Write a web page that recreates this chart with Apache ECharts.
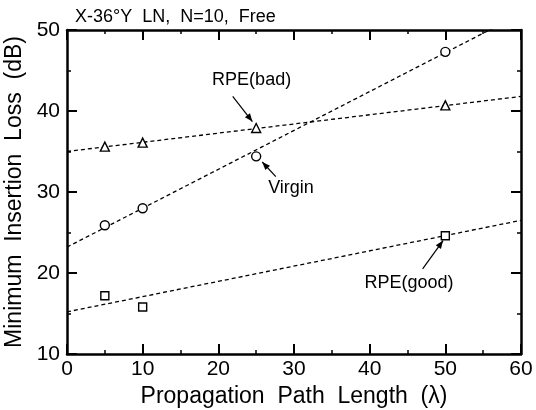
<!DOCTYPE html>
<html>
<head>
<meta charset="utf-8">
<script src="https://cdn.jsdelivr.net/npm/echarts@6/dist/echarts.min.js"></script>
<style>
html, body { margin: 0; padding: 0; background: #fff; }
#canvas { width: 536px; height: 410px; }
</style>
</head>
<body>
<div id="canvas"></div>
<script>
// measured points
var badPts = [[5, 35.6], [10, 36.1], [25, 37.9], [50, 40.7]];
var virginPts = [[5, 25.9], [10, 28.0], [25, 34.4], [50, 47.3]];
var goodPts = [[5, 17.2], [10, 15.8], [50, 24.6]];

// dashed fit lines (end points)
var badFit = [[0, 35.0], [60, 41.8]];
var virginFit = [[0, 23.2], [60, 52.0]];
var goodFit = [[0, 15.2], [60, 26.5]];

// annotations: label position, arrow start, arrow end (data coords)
var notes = [
    {text: 'RPE(bad)', at: [24.4, 43.8], from: [21.9, 41.8], to: [24.5, 38.7]},
    {text: 'Virgin', at: [29.6, 30.5], from: [27.6, 31.9], to: [25.8, 33.7]},
    {text: 'RPE(good)', at: [45.2, 18.8], from: [47.0, 20.5], to: [49.7, 24.0]}
];

var titleText = 'X-36\u00b0Y  LN,  N=10,  Free';
var xName = 'Propagation  Path  Length  (\u03bb)';
var yName = 'Minimum  Insertion  Loss  (dB)';

var font = 'Liberation Sans, Arial, sans-serif';
var myChart = echarts.init(document.getElementById('canvas'));

var axisBase = function(pos, show) {
    return {
        position: pos,
        axisLine: {show: true, onZero: false, lineStyle: {color: '#000', width: 2.5}},
        axisTick: {show: true, inside: true, length: 10, lineStyle: {color: '#000', width: 2}},
        minorTick: {show: true, splitNumber: 2, length: 4, lineStyle: {color: '#000', width: 1.5}},
        splitLine: {show: false},
        axisLabel: {show: show, color: '#000', fontFamily: font, fontSize: 21}
    };
};

var xb = axisBase('bottom', true);
var xt = axisBase('top', false);
var yl = axisBase('left', true);
var yr = axisBase('right', false);
[xb, xt].forEach(function(a) { a.type = 'value'; a.min = 0; a.max = 60; a.interval = 10; });
[yl, yr].forEach(function(a) { a.type = 'value'; a.min = 10; a.max = 50; a.interval = 10; });
xb.name = xName; xb.nameLocation = 'middle'; xb.nameGap = 31;
xb.nameTextStyle = {color: '#000', fontFamily: font, fontSize: 23};
xb.axisLabel.margin = 5;
yl.name = yName; yl.nameLocation = 'middle'; yl.nameGap = 34;
yl.nameTextStyle = {color: '#000', fontFamily: font, fontSize: 23};
yl.axisLabel.margin = 7;

var dashed = {color: '#000', width: 1.3, type: [4, 3]};
var fitSeries = function(d) {
    return {type: 'line', data: d, symbol: 'none', lineStyle: dashed, clip: true, silent: true, z: 2};
};
var ptSeries = function(d, sym, size) {
    return {
        type: 'scatter', data: d, symbol: sym, symbolSize: size, z: 3,
        itemStyle: {color: '#fff', borderColor: '#000', borderWidth: 1.4, opacity: 1}
    };
};

var option = {
    animation: false,
    backgroundColor: '#fff',
    title: {
        text: titleText, left: 70, top: 3,
        textStyle: {color: '#000', fontFamily: font, fontSize: 18, fontWeight: 'normal'}
    },
    grid: {left: 67, right: 15, top: 30, bottom: 56, containLabel: false, outerBoundsMode: 'none'},
    xAxis: [xb, xt],
    yAxis: [yl, yr],
    series: [
        fitSeries(badFit), fitSeries(virginFit), fitSeries(goodFit),
        ptSeries(badPts, 'triangle', 9),
        ptSeries(virginPts, 'circle', 9),
        ptSeries(goodPts, 'rect', 8)
    ]
};
myChart.setOption(option);

// annotation text and arrows
var graphics = [];
notes.forEach(function(n) {
    var p = myChart.convertToPixel({gridIndex: 0}, n.at);
    var a = myChart.convertToPixel({gridIndex: 0}, n.from);
    var b = myChart.convertToPixel({gridIndex: 0}, n.to);
    graphics.push({
        type: 'text', x: p[0], y: p[1],
        style: {text: n.text, fill: '#000', font: '18px ' + font, align: 'center', verticalAlign: 'middle'}
    });
    graphics.push({
        type: 'line', shape: {x1: a[0], y1: a[1], x2: b[0], y2: b[1]},
        style: {stroke: '#000', lineWidth: 1.2}
    });
    var ang = Math.atan2(b[1] - a[1], b[0] - a[0]);
    var L = 8, W = 3.2;
    var bx = b[0] - L * Math.cos(ang), by = b[1] - L * Math.sin(ang);
    graphics.push({
        type: 'polygon',
        shape: {points: [
            [b[0], b[1]],
            [bx + W * Math.sin(ang), by - W * Math.cos(ang)],
            [bx - W * Math.sin(ang), by + W * Math.cos(ang)]
        ]},
        style: {fill: '#000'}
    });
});
myChart.setOption({graphic: graphics});
</script>
</body>
</html>
